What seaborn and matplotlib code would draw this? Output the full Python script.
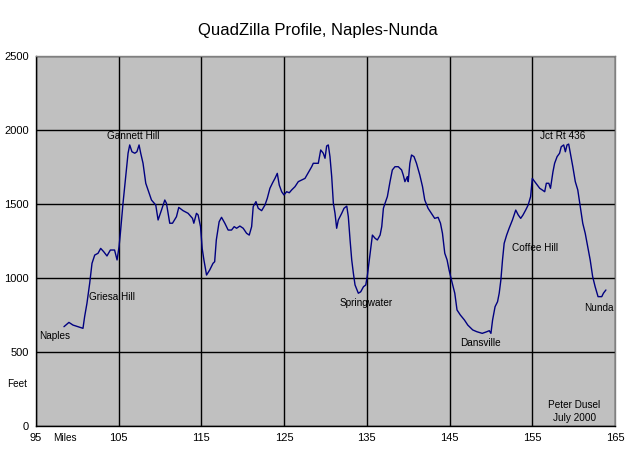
import matplotlib
matplotlib.use("Agg")
import matplotlib.pyplot as plt
import seaborn as sns
import pandas as pd

miles = [98.38, 98.98, 99.47, 100.07, 100.68, 100.88, 101.16, 101.49, 101.77, 102.1,
         102.5, 102.82, 103.18, 103.58, 103.99, 104.5, 104.8, 105.04, 105.2, 105.52,
         105.93, 106.13, 106.33, 106.6, 106.94, 107.2, 107.46, 107.66, 107.94, 108.27,
         108.55, 108.96, 109.48, 109.76, 110.17, 110.57, 110.77, 111.17, 111.5, 111.98,
         112.26, 112.78, 113.39, 113.92, 114.08, 114.4, 114.6, 114.89, 115.09, 115.3,
         115.62, 116.0, 116.4, 116.6, 116.8, 117.14, 117.43, 117.83, 118.23, 118.64,
         118.96, 119.25, 119.65, 120.05, 120.46, 120.78, 121.07, 121.26, 121.59, 121.87,
         122.28, 122.68, 122.96, 123.28, 123.61, 123.89, 124.17, 124.41, 124.7, 124.98,
         125.3, 125.62, 125.91, 126.31, 126.71, 127.12, 127.52, 127.92, 128.33, 128.52,
         129.13, 129.42, 129.73, 129.94, 130.14, 130.34, 130.54, 130.75, 130.95, 131.15,
         131.35, 131.55, 131.96, 132.24, 132.57, 132.76, 132.97, 133.17, 133.37, 133.57,
         133.97, 134.26, 134.59, 134.87, 135.07, 135.4, 135.67, 136.0, 136.27, 136.6,
         136.8, 137.0, 137.2, 137.48, 137.8, 138.08, 138.4, 138.8, 139.2, 139.4,
         139.6, 139.9, 140.0, 140.2, 140.4, 140.7, 141.0, 141.4, 141.73, 142.0,
         142.4, 142.8, 143.2, 143.61, 143.9, 144.14, 144.42, 144.7, 144.94, 145.23,
         145.63, 145.9, 146.3, 146.8, 147.2, 147.8, 148.3, 148.95, 149.5, 149.8,
         150.0, 150.2, 150.5, 150.8, 151.0, 151.2, 151.4, 151.6, 151.9, 152.2,
         152.6, 153.0, 153.3, 153.6, 153.88, 154.2, 154.5, 154.8, 155.0, 155.3,
         155.6, 155.9, 156.2, 156.5, 156.7, 157.0, 157.2, 157.5, 157.7, 158.0,
         158.3, 158.5, 158.8, 159.0, 159.2, 159.4, 159.6, 159.9, 160.2, 160.5,
         160.8, 161.1, 161.4, 161.7, 162.0, 162.3, 162.6, 162.95, 163.4, 163.6, 163.9]

feet = [671, 700, 682, 671, 660, 739, 829, 964, 1099, 1155,
        1167, 1200, 1178, 1149, 1189, 1189, 1122, 1212, 1302, 1505,
        1730, 1843, 1899, 1853, 1843, 1853, 1899, 1843, 1775, 1640,
        1595, 1527, 1493, 1392, 1459, 1527, 1505, 1370, 1370, 1414,
        1477, 1455, 1437, 1403, 1370, 1437, 1426, 1347, 1200, 1122,
        1020, 1054, 1099, 1110, 1257, 1380, 1410, 1370, 1324, 1324,
        1347, 1336, 1351, 1336, 1302, 1290, 1347, 1482, 1516, 1471,
        1455, 1493, 1538, 1606, 1644, 1673, 1707, 1628, 1583, 1561,
        1583, 1576, 1595, 1617, 1651, 1662, 1673, 1712, 1752, 1775,
        1775, 1865, 1843, 1809, 1892, 1899, 1820, 1685, 1505, 1437,
        1336, 1392, 1437, 1471, 1486, 1414, 1257, 1122, 1032, 953,
        897, 907, 941, 953, 1020, 1167, 1290, 1268, 1257, 1290,
        1347, 1471, 1505, 1550, 1651, 1730, 1752, 1752, 1730, 1696,
        1651, 1685, 1651, 1775, 1831, 1820, 1775, 1696, 1617, 1527,
        1471, 1437, 1403, 1410, 1370, 1302, 1167, 1122, 1054, 986,
        897, 784, 750, 716, 682, 649, 637, 626, 637, 644,
        626, 716, 806, 840, 897, 986, 1122, 1234, 1290, 1336,
        1392, 1459, 1426, 1403, 1426, 1459, 1493, 1550, 1673, 1651,
        1628, 1606, 1595, 1583, 1640, 1640, 1606, 1718, 1775, 1820,
        1843, 1887, 1899, 1853, 1899, 1905, 1843, 1752, 1651, 1595,
        1482, 1370, 1302, 1212, 1122, 1009, 941, 874, 874, 897, 919]

place_names = ["Naples", "Griesa Hill", "Gannett Hill", "Springwater", "Dansville",
               "Coffee Hill", "Jct Rt 436", "Nunda"]
place_miles = [97.25, 104.2, 106.7, 134.9, 148.7, 155.3, 158.7, 163.1]
place_feet = [608, 872, 1959, 831, 561, 1203, 1959, 797]

x_ticks = [95, 105, 115, 125, 135, 145, 155, 165]
y_ticks = [0, 500, 1000, 1500, 2000, 2500]

title = "QuadZilla Profile, Naples-Nunda"

sns.set_theme(style="white")
plt.rcParams['font.family'] = ['Liberation Sans', 'DejaVu Sans']
plt.rcParams['text.color'] = 'black'

fig = plt.figure(figsize=(6.35, 4.5), dpi=100)
fig.patch.set_facecolor("white")
ax = fig.add_axes([36 / 635, 24 / 450, 579 / 635, 370 / 450])
ax.set_facecolor("#C0C0C0")

df = pd.DataFrame({"Miles": miles, "Feet": feet})
sns.lineplot(data=df, x="Miles", y="Feet", ax=ax, color="#000080", linewidth=1.0,
             estimator=None, sort=False)

ax.set_xlim(95, 165)
ax.set_ylim(0, 2500)
ax.set_xticks(x_ticks)
ax.set_yticks(y_ticks)
ax.set_xticklabels([str(v) for v in x_ticks], fontsize=8)
ax.set_yticklabels([str(v) for v in y_ticks], fontsize=8)
ax.grid(True, color="black", linewidth=1.0)
ax.set_axisbelow(True)
ax.tick_params(axis="both", which="both", direction="out", length=3, width=1,
               color="black", pad=2, labelcolor="black")
ax.set_xlabel("")
ax.set_ylabel("")
for side in ["left", "bottom"]:
    ax.spines[side].set_color("black")
    ax.spines[side].set_linewidth(1.0)
for side in ["top", "right"]:
    ax.spines[side].set_color("#808080")
    ax.spines[side].set_linewidth(1.0)

for name, mx, fy in zip(place_names, place_miles, place_feet):
    ax.text(mx, fy, name, fontsize=7.2, ha="center", va="center", color="black")

ax.text(160.1, 142, "Peter Dusel", fontsize=7.2, ha="center", va="center", color="black")
ax.text(160.1, 54, "July 2000", fontsize=7.2, ha="center", va="center", color="black")

fig.text(17 / 635, 1 - 384 / 450, "Feet", fontsize=7.2, ha="center", va="center", color="black")
fig.text(65 / 635, 1 - 438 / 450, "Miles", fontsize=7.2, ha="center", va="center", color="black")
fig.text(0.5, 1 - 31 / 450, title, fontsize=12, ha="center", va="center", color="black")

fig.savefig("out.png", dpi=100, facecolor="white")
